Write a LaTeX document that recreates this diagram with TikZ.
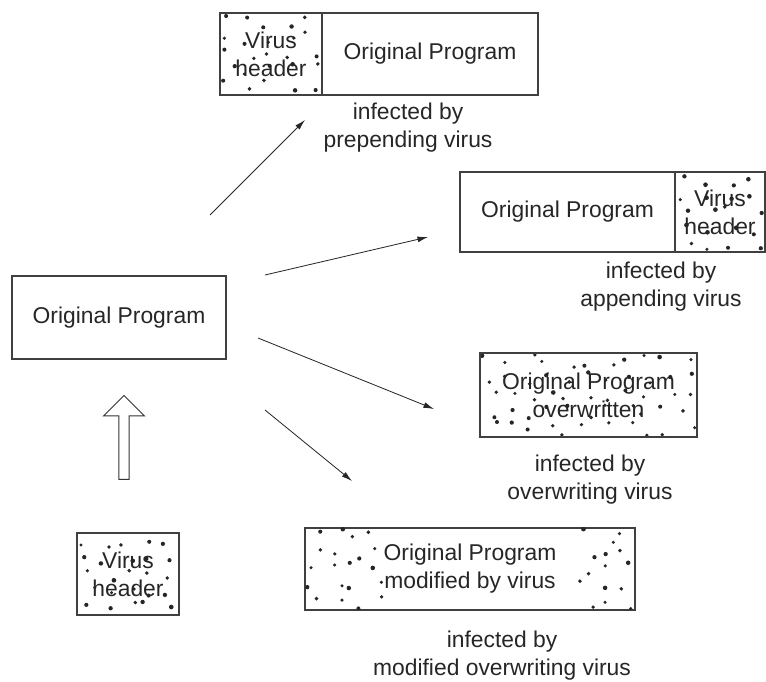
\documentclass[tikz,border=0pt]{standalone}
\usepackage{fontspec}
\setmainfont{Liberation Sans}
\usetikzlibrary{arrows.meta, calc, shapes.arrows}

\begin{document}
\pgfmathsetseed{42}
\begin{tikzpicture}[
    x=0.03cm, y=-0.03cm,
    every node/.style={font=\fontsize{19.5}{24}\selectfont, text=black!85},
    box/.style={draw=black!75, line width=1pt, inner sep=0pt, align=center},
    speckled/.style 2 args={path picture={
        \foreach \i in {1,...,#1} \foreach \j in {1,...,#2}{
            \fill[black!85] let \p1=(path picture bounding box.south west),
                \p2=(path picture bounding box.north east) in
                ({\x1+(\i-0.5+0.8*(rnd-0.5))*(\x2-\x1)/#1},
                 {\y1+(\j-0.5+0.8*(rnd-0.5))*(\y2-\y1)/#2})
                circle ({(1.4+0.6*rnd)*1pt});
        }}},
    note/.style={align=center, inner sep=0pt},
    line/.style={line width=0.7pt, black!85, -{Latex[length=9pt, width=5pt]}}
]
    \useasboundingbox (0,0) rectangle (766,682);

    % Original program
    \node[box, minimum width=6.42cm, minimum height=2.49cm] (orig) at (119,317.5) {Original Program};

    % Prepending virus
    \node[box, speckled={5}{5}, minimum width=3.06cm, minimum height=2.46cm] (prepVirus) at (271,54) {Virus\\header};
    \node[box, minimum width=6.48cm, minimum height=2.46cm] (prepProg) at (430,54) {Original Program};
    \node[note] (prepNote) at (408,128) {infected by\\prepending virus};

    % Appending virus
    \node[box, minimum width=6.45cm, minimum height=2.4cm] (appProg) at (567.5,212) {Original Program};
    \node[box, speckled={4}{5}, minimum width=2.7cm, minimum height=2.4cm] (appVirus) at (720,212) {Virus\\header};
    \node[note] (appNote) at (661,287) {infected by\\appending virus};

    % Overwriting virus
    \node[box, speckled={11}{5}, minimum width=6.51cm, minimum height=2.52cm] (overw) at (588.5,395) {Original Program\\overwritten};
    \node[note] (overwNote) at (590,480) {infected by\\overwriting virus};

    % Modified overwriting virus
    \node[box, minimum width=9.9cm, minimum height=2.46cm] (modif) at (470,569) {Original Program\\modified by virus};
    \path[speckled={4}{5}] (modif.north west) rectangle ($(modif.south west)+(82,0)$);
    \path[speckled={3}{5}] ($(modif.north east)+(-58,0)$) rectangle (modif.south east);
    \node[note] (modifNote) at (502,656) {infected by\\modified overwriting virus};

    % Virus header and hollow arrow
    \node[box, speckled={5}{5}, minimum width=3.06cm, minimum height=2.46cm] (virus) at (128,574) {Virus\\header};
    \node[draw=black!80, line width=0.8pt, single arrow, shape border rotate=90,
        inner sep=0.14cm, minimum height=2.52cm,
        single arrow head extend=0.46cm] (inject) at (124,440) {};

    % Arrows to the infected programs
    \coordinate (s1) at (210,215); \coordinate (e1) at (305,120);
    \coordinate (s2) at (265,275); \coordinate (e2) at (428,237);
    \coordinate (s3) at (258,338); \coordinate (e3) at (434,409);
    \coordinate (s4) at (265,410); \coordinate (e4) at (352,481);
    \foreach \i in {1,...,4}
        \draw[line] (s\i) -- (e\i);
\end{tikzpicture}
\end{document}
